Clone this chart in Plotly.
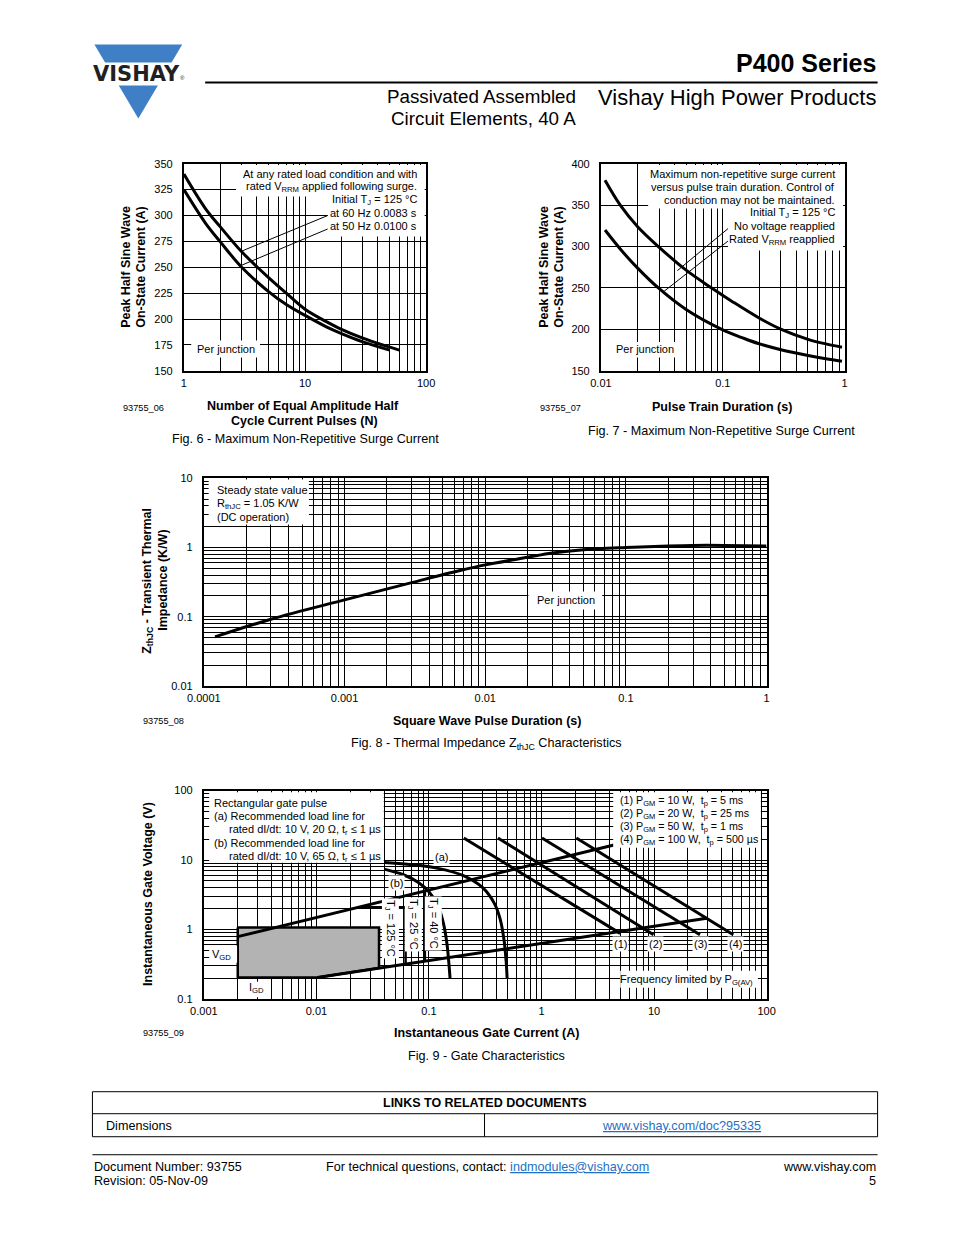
import plotly.graph_objects as go

W, H = 954, 1235
FONT = "Liberation Sans, Arial, sans-serif"

# ---------------- data ----------------
# Fig. 6 - surge current vs number of half cycles
fig6_n_60hz = [1, 1.5, 2, 3, 5, 7, 10, 15, 20, 30, 45, 60]
fig6_i_60hz = [340, 307, 289, 265, 240, 225, 209.5, 197.5, 190, 181.5, 174.5, 170]
fig6_n_50hz = [1, 1.5, 2, 3, 5, 7, 10, 15, 20, 30, 50]
fig6_i_50hz = [325, 293, 274.5, 250, 226.5, 214, 203.5, 192.5, 186, 178, 170]
fig6_lead_x = [3.0, 15.4]
fig6_lead60_y = [265.6, 300]
fig6_lead50_y = [252, 287]
fig6_xticks = [1, 10, 100]
fig6_xtext = ["1", "10", "100"]
fig6_yticks = [150, 175, 200, 225, 250, 275, 300, 325, 350]

# Fig. 7 - surge current vs pulse train duration
fig7_t_nv = [0.0108, 0.0144, 0.02, 0.0296, 0.05, 0.081, 0.12, 0.2, 0.302, 0.5, 0.7, 0.95]
fig7_no_voltage = [380, 350, 324, 300, 271.5, 250, 233.5, 213.5, 200, 188, 182.5, 178.5]
fig7_t_rv = [0.0108, 0.015, 0.02, 0.0296, 0.05, 0.098, 0.15, 0.2, 0.3, 0.5, 0.7, 0.95]
fig7_rated_vrrm = [320, 294, 274, 250, 224, 200, 189, 182.5, 175.5, 168.5, 164.5, 161.5]
fig7_lead1_x = [0.0424, 0.111]
fig7_lead1_y = [271, 322]
fig7_lead2_x = [0.033, 0.111]
fig7_lead2_y = [246, 307]
fig7_xticks = [0.01, 0.1, 1]
fig7_xtext = ["0.01", "0.1", "1"]
fig7_yticks = [150, 200, 250, 300, 350, 400]

# Fig. 8 - transient thermal impedance
fig8_t = [0.00012, 0.0003, 0.001, 0.003, 0.0065, 0.01, 0.02, 0.03, 0.05, 0.1, 0.2, 0.3, 0.5, 1.0]
fig8_z = [0.051, 0.092, 0.175, 0.31, 0.46, 0.56, 0.72, 0.83, 0.93, 1.0, 1.05, 1.07, 1.07, 1.05]
fig8_xticks = [0.0001, 0.001, 0.01, 0.1, 1]
fig8_xtext = ["0.0001", "0.001", "0.01", "0.1", "1"]
fig8_yticks = [0.01, 0.1, 1, 10]
fig8_ytext = ["0.01", "0.1", "1", "10"]

# Fig. 9 - gate characteristics
fig9_a_i = [0.04, 0.08, 0.12, 0.2, 0.3, 0.38, 0.43, 0.465, 0.485, 0.495]
fig9_a_v = [9.2, 8.4, 7.6, 6.0, 4.0, 2.4, 1.4, 0.7, 0.35, 0.2]
fig9_b_i = [0.04, 0.06, 0.08, 0.1, 0.12, 0.135, 0.145, 0.151, 0.154]
fig9_b_v = [7.4, 6.1, 4.8, 3.5, 2.2, 1.2, 0.6, 0.3, 0.2]
fig9_upper_i = [0.002, 4.4]
fig9_upper_v = [0.79, 16.5]
fig9_lower_i = [0.0102, 29.4]
fig9_lower_v = [0.204, 1.45]
fig9_gd_i = [0.002, 0.036, 0.036, 0.0102, 0.002, 0.002]
fig9_gd_v = [1.07, 1.07, 0.28, 0.204, 0.204, 1.07]
fig9_t25_i = [0.0235, 0.062, 0.062]
fig9_t25_v = [2.09, 2.09, 0.318]
fig9_t40_i = [0.092, 0.092]
fig9_t40_v = [3.5, 0.35]
fig9_p1_i, fig9_p1_v = [0.204, 5.0], [20.8, 0.88]
fig9_p2_i, fig9_p2_v = [0.41, 9.9], [20.8, 0.84]
fig9_p3_i, fig9_p3_v = [1.01, 25.6], [20.8, 0.84]
fig9_p4_i, fig9_p4_v = [2.04, 50.6], [20.8, 0.84]
fig9_xticks = [0.001, 0.01, 0.1, 1, 10, 100]
fig9_xtext = ["0.001", "0.01", "0.1", "1", "10", "100"]
fig9_yticks = [0.1, 1, 10, 100]
fig9_ytext = ["0.1", "1", "10", "100"]


# page-pixel -> paper coordinates (calibrated to the rendered page)
def X(x):
    return (x - 15.4) / 0.975


def Y(y):
    return (y - 5.6) / 0.99


def px(x):
    return X(x) / W


def py(y):
    return 1 - Y(y) / H


fig = go.Figure()


def curve(x, y, ax, w=3, spline=False, **kw):
    fig.add_trace(go.Scatter(
        x=x, y=y, mode="lines", xaxis="x" + ax, yaxis="y" + ax,
        line=dict(color="black", width=w, shape="spline" if spline else "linear"),
        hoverinfo="skip", showlegend=False, **kw))


# Fig 6
curve(fig6_n_60hz, fig6_i_60hz, "", spline=True)
curve(fig6_n_50hz, fig6_i_50hz, "", spline=True)
curve(fig6_lead_x, fig6_lead60_y, "", w=1)
curve(fig6_lead_x, fig6_lead50_y, "", w=1)
# Fig 7
curve(fig7_t_nv, fig7_no_voltage, "2", spline=True)
curve(fig7_t_rv, fig7_rated_vrrm, "2", spline=True)
curve(fig7_lead1_x, fig7_lead1_y, "2", w=1)
curve(fig7_lead2_x, fig7_lead2_y, "2", w=1)
# Fig 8
curve(fig8_t, fig8_z, "3", spline=True)
# Fig 9
fig.add_trace(go.Scatter(x=fig9_gd_i, y=fig9_gd_v, mode="lines", xaxis="x4", yaxis="y4",
                         fill="toself", fillcolor="#b3b3b3",
                         line=dict(color="black", width=2.5), hoverinfo="skip", showlegend=False))
curve(fig9_upper_i, fig9_upper_v, "4")
curve(fig9_lower_i, fig9_lower_v, "4")
curve(fig9_t25_i, fig9_t25_v, "4", w=2.5)
curve(fig9_t40_i, fig9_t40_v, "4", w=2.5)
curve(fig9_a_i, fig9_a_v, "4", spline=True)
curve(fig9_b_i, fig9_b_v, "4", spline=True)
for xi, yv in [(fig9_p1_i, fig9_p1_v), (fig9_p2_i, fig9_p2_v),
               (fig9_p3_i, fig9_p3_v), (fig9_p4_i, fig9_p4_v)]:
    curve(xi, yv, "4")

# ---------------- axes ----------------
tickfont = dict(family=FONT, size=11, color="black")


def axis(domain, standoff, **kw):
    d = dict(domain=domain, showline=True, linecolor="black", linewidth=2, mirror=True,
             showgrid=True, gridcolor="black", gridwidth=1, zeroline=False, ticks="",
             tickfont=tickfont, fixedrange=True, ticklabelstandoff=standoff)
    d.update(kw)
    return d


def logminor():
    return dict(tickmode="linear", dtick="D1", showgrid=True, gridcolor="black",
                gridwidth=1, ticks="")


XS, YS = 1, 7
fig.update_layout(
    xaxis=axis([px(182.7), px(425.5)], XS, type="log", range=[0, 2], tickmode="array",
               tickvals=fig6_xticks, ticktext=fig6_xtext, minor=logminor(), anchor="y"),
    yaxis=axis([py(370.3), py(163.3)], YS, range=[150, 350], tickmode="array",
               tickvals=fig6_yticks, ticktext=[str(v) for v in fig6_yticks], anchor="x"),
    xaxis2=axis([px(600.7), px(845)], XS, type="log", range=[-2, 0], tickmode="array",
                tickvals=fig7_xticks, ticktext=fig7_xtext, minor=logminor(), anchor="y2"),
    yaxis2=axis([py(370.3), py(163.3)], YS, range=[150, 400], tickmode="array",
                tickvals=fig7_yticks, ticktext=[str(v) for v in fig7_yticks], anchor="x2"),
    xaxis3=axis([px(202.7), px(766.7)], XS, type="log", range=[-4, 0], tickmode="array",
                tickvals=fig8_xticks, ticktext=fig8_xtext, minor=logminor(), anchor="y3"),
    yaxis3=axis([py(685.3), py(477.7)], YS, type="log", range=[-2, 1], tickmode="array",
                tickvals=fig8_yticks, ticktext=fig8_ytext, minor=logminor(), anchor="x3"),
    xaxis4=axis([px(202.7), px(766.7)], XS, type="log", range=[-3, 2], tickmode="array",
                tickvals=fig9_xticks, ticktext=fig9_xtext, minor=logminor(), anchor="y4"),
    yaxis4=axis([py(998.3), py(790)], YS, type="log", range=[-1, 2], tickmode="array",
                tickvals=fig9_yticks, ticktext=fig9_ytext, minor=logminor(), anchor="x4"),
)

# ---------------- shapes & annotations ----------------
annotations = []
shapes = []


def ann(text, x, y, xa="center", ya="middle", size=11, bold=False, bg=None,
        align="left", angle=0, pad=1, color="black", family=FONT):
    if bold:
        text = "<b>" + text + "</b>"
    d = dict(text=text, x=px(x), y=py(y), xref="paper", yref="paper", xanchor=xa,
             yanchor=ya, showarrow=False, font=dict(family=family, size=size, color=color),
             align=align, textangle=angle, borderpad=pad)
    if bg:
        d["bgcolor"] = bg
    annotations.append(d)


def wbox(x0, y0, x1, y1):
    shapes.append(dict(type="rect", xref="paper", yref="paper", x0=px(x0), x1=px(x1),
                       y0=py(y1), y1=py(y0), fillcolor="white", line=dict(width=0),
                       layer="above"))


def line(x0, y0, x1, y1, w=1, color="black"):
    shapes.append(dict(type="line", xref="paper", yref="paper", x0=px(x0), y0=py(y0),
                       x1=px(x1), y1=py(y1), line=dict(color=color, width=w)))


def path(pts, color):
    p = "M " + " L ".join(f"{px(a)},{py(b)}" for a, b in pts) + " Z"
    shapes.append(dict(type="path", xref="paper", yref="paper", path=p,
                       fillcolor=color, line=dict(width=0)))


NB = "\u00a0"
TXT = 11       # in-plot text
TTL = 12.5     # axis titles
CAP = 12.6     # captions / footer

# header
BLUE = "#3f7fc6"
path([(93, 44), (181, 44), (170.3, 62), (103.7, 62)], BLUE)
path([(117.4, 85), (156.6, 85), (137, 118)], BLUE)
line(204, 82, 878, 82, w=2)
ann("VISHAY", 135, 73.5, size=21, bold=True, color="#231f20", family="DejaVu Sans")
ann("®", 181, 78, size=6, color="#231f20")
ann("P400 Series", 878, 63, xa="right", size=25, bold=True)
ann("Passivated Assembled", 578, 96, xa="right", size=18.8)
ann("Circuit Elements, 40 A", 578, 118, xa="right", size=18.8)
ann("Vishay High Power Products", 878, 97, xa="right", size=22)

# ---- Fig 6 ----
wbox(235, 164.5, 424, 196)
wbox(327, 193, 424, 236)
wbox(190, 340, 259, 357)
for t, yy in [("At any rated load condition and with", 174),
              ("rated V<sub>RRM</sub> applied following surge.", 187),
              ("Initial T<sub>J</sub> = 125 °C", 200),
              ("at 60 Hz 0.0083 s", 213),
              ("at 50 Hz 0.0100 s", 226)]:
    ann(t, 418, yy, xa="right", size=TXT)
ann("Per junction", 225, 348.5, size=TXT)
ann("Peak Half Sine Wave", 125, 266, size=TTL, bold=True, angle=-90)
ann("On-State Current (A)", 140, 266, size=TTL, bold=True, angle=-90)
ann("Number of Equal Amplitude Half", 302, 405.5, size=TTL, bold=True)
ann("Cycle Current Pulses (N)", 304, 420.5, size=TTL, bold=True)
ann("93755_06", 120, 407, xa="left", size=9.2)
ann("Fig. 6 - Maximum Non-Repetitive Surge Current", 305, 438.5, size=CAP)

# ---- Fig 7 ----
wbox(648, 164.5, 843.5, 208)
wbox(728, 207, 843.5, 250)
wbox(612, 341.5, 677, 357)
for t, yy in [("Maximum non-repetitive surge current", 174),
              ("versus pulse train duration. Control of", 187),
              ("conduction may not be maintained.", 200),
              ("Initial T<sub>J</sub> = 125 °C", 213),
              ("No voltage reapplied", 226),
              ("Rated V<sub>RRM</sub> reapplied", 239.5)]:
    ann(t, 837, yy, xa="right", size=TXT)
ann("Per junction", 645, 349, size=TXT)
ann("Peak Half Sine Wave", 544, 266, size=TTL, bold=True, angle=-90)
ann("On-State Current (A)", 559, 266, size=TTL, bold=True, angle=-90)
ann("Pulse Train Duration (s)", 722, 406, size=TTL, bold=True)
ann("93755_07", 538, 407, xa="left", size=9.2)
ann("Fig. 7 - Maximum Non-Repetitive Surge Current", 722, 430, size=CAP)

# ---- Fig 8 ----
wbox(207.5, 479, 308, 524)
wbox(528, 591, 602, 609)
ann("Steady state value", 214, 489, xa="left", size=TXT)
ann("R<sub>thJC</sub> = 1.05 K/W", 214, 503, xa="left", size=TXT)
ann("(DC operation)", 214, 516.5, xa="left", size=TXT)
ann("Per junction", 566, 599.5, size=TXT)
ann("Z<sub>thJC</sub> - Transient Thermal", 146, 580, size=TTL, bold=True, angle=-90)
ann("Impedance (K/W)", 161, 580, size=TTL, bold=True, angle=-90)
ann("Square Wave Pulse Duration (s)", 486, 720, size=TTL, bold=True)
ann("93755_08", 140, 720, xa="left", size=9.2)
ann("Fig. 8 - Thermal Impedance Z<sub>thJC</sub> Characteristics", 486, 743, size=CAP)

# ---- Fig 9 ----
wbox(208, 791.5, 383, 862)
wbox(613, 791.5, 761, 847)
wbox(620, 970, 758, 987)
wbox(208, 945, 236, 962)
wbox(242, 981, 270, 996.5)
for t, xx, yy in [("Rectangular gate pulse", 211, 802),
                  ("(a) Recommended load line for", 211, 815.5),
                  ("rated dI/dt: 10 V, 20 Ω, t<sub>r</sub> ≤ 1 µs", 226, 829),
                  ("(b) Recommended load line for", 211, 842.5),
                  ("rated dI/dt: 10 V, 65 Ω, t<sub>r</sub> ≤ 1 µs", 226, 856)]:
    ann(t, xx, yy, xa="left", size=TXT)
for t, yy in [("(1) P<sub>GM</sub> = 10 W," + NB * 2 + "t<sub>p</sub> = 5 ms", 800),
              ("(2) P<sub>GM</sub> = 20 W," + NB * 2 + "t<sub>p</sub> = 25 ms", 813),
              ("(3) P<sub>GM</sub> = 50 W," + NB * 2 + "t<sub>p</sub> = 1 ms", 826),
              ("(4) P<sub>GM</sub> = 100 W," + NB * 2 + "t<sub>p</sub> = 500 µs", 839)]:
    ann(t, 618, yy, xa="left", size=10.7)
ann("(a)", 441, 856, size=TXT, bg="white", pad=1)
ann("(b)", 396, 882, size=TXT, bg="white", pad=1)
ann("V<sub>GD</sub>", 220, 954, size=TXT)
ann("I<sub>GD</sub>", 255, 987, size=TXT)
ann("T<sub>J</sub> = 125 °C", 390, 928, size=TXT, angle=90, bg="white", pad=1)
ann("T<sub>J</sub> = 25 °C", 413, 924, size=TXT, angle=90, bg="white", pad=1)
ann("T<sub>J</sub> = 40 °C", 433, 923, size=TXT, angle=90, bg="white", pad=1)
for lab, xx in [("(1)", 620.5), ("(2)", 655), ("(3)", 700), ("(4)", 736)]:
    ann(lab, xx, 943.5, size=TXT, bg="white", pad=1)
ann("Frequency limited by P<sub>G(AV)</sub>", 755, 979, xa="right", size=TXT)
ann("Instantaneous Gate Voltage (V)", 146, 893, size=TTL, bold=True, angle=-90)
ann("Instantaneous Gate Current (A)", 486, 1032, size=TTL, bold=True)
ann("93755_09", 140, 1032, xa="left", size=9.2)
ann("Fig. 9 - Gate Characteristics", 486, 1055, size=CAP)

# ---- table ----
shapes.append(dict(type="rect", xref="paper", yref="paper", x0=px(91), y0=py(1136),
                   x1=px(878), y1=py(1091), line=dict(color="black", width=1)))
line(91, 1113, 878, 1113)
line(484, 1113, 484, 1136)
ann("LINKS TO RELATED DOCUMENTS", 484.5, 1102.5, size=12.5, bold=True)
ann("Dimensions", 103, 1125, xa="left", size=CAP)
ann("<u>www.vishay.com/doc?95335</u>", 681, 1125, size=CAP, color="#1f6fc5")

# ---- footer ----
line(91, 1154, 878, 1154)
ann("Document Number: 93755", 91, 1166, xa="left", size=CAP)
ann("Revision: 05-Nov-09", 91, 1180, xa="left", size=CAP)
ann("For technical questions, contact: "
    "<span style='color:#1f6fc5'><u>indmodules@vishay.com</u></span>",
    323, 1166, xa="left", size=CAP)
ann("www.vishay.com", 878, 1166, xa="right", size=CAP)
ann("5", 878, 1180, xa="right", size=CAP)

fig.update_layout(
    width=W, height=H, margin=dict(l=0, r=0, t=0, b=0),
    paper_bgcolor="white", plot_bgcolor="white",
    font=dict(family=FONT, color="black"),
    annotations=annotations, shapes=shapes, showlegend=False,
)

fig.write_html(
    "out.html",
    config={"displayModeBar": False},
    post_script="document.body.style.margin='0';document.body.style.padding='0';"
                "document.body.style.overflow='hidden';",
)
